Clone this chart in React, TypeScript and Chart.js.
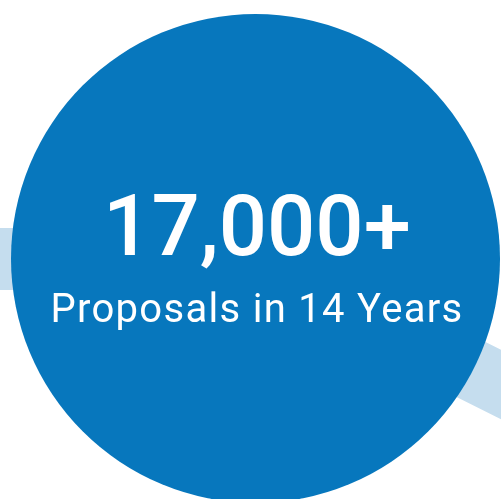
import React, { useEffect, useRef } from "react";
import { Chart, registerables } from "chart.js";

Chart.register(...registerables);

// Background trend band (data units, 0–100 on both axes)
const bandX = [-4, 49.9, 123.8];
const bandY = [48.1, 48.1, 11.0];

// Headline circle
const circleX = [51.0];
const circleY = [48.2];

const headline = "17,000+";
const subline = "Proposals in 14 Years";

const BLUE = "#0777bd";
const LIGHT = "#c5ddee";

export default function App() {
  const ref = useRef<HTMLCanvasElement | null>(null);

  useEffect(() => {
    if (!ref.current) return;
    const chart = new Chart(ref.current, {
      type: "bubble",
      data: {
        datasets: [
          {
            type: "bubble",
            data: circleX.map((x, i) => ({ x, y: circleY[i], r: 244.5 })),
            backgroundColor: BLUE,
            borderWidth: 0,
            order: 0,
          } as any,
          {
            type: "line",
            data: bandX.map((x, i) => ({ x, y: bandY[i] })),
            borderColor: LIGHT,
            borderWidth: 62,
            pointRadius: 0,
            tension: 0,
            fill: false,
            order: 1,
          } as any,
        ],
      },
      options: {
        responsive: false,
        animation: false,
        events: [],
        layout: { padding: 0, autoPadding: false },
        scales: {
          x: { type: "linear", min: 0, max: 100, display: false },
          y: { type: "linear", min: 0, max: 100, display: false },
        },
        plugins: {
          legend: { display: false },
          tooltip: { enabled: false },
          title: { display: false },
        },
      },
    });
    return () => chart.destroy();
  }, []);

  return (
    <div
      style={{
        position: "fixed",
        left: 0,
        top: 0,
        width: 501,
        height: 499,
        background: "#ffffff",
        overflow: "hidden",
      }}
    >
      <canvas ref={ref} width={501} height={499} style={{ display: "block" }} />
      <div
        style={{
          position: "absolute",
          left: 257,
          top: 184,
          transform: "translateX(-50%)",
          whiteSpace: "nowrap",
          color: "#ffffff",
          fontFamily: "Roboto, sans-serif",
          fontWeight: 500,
          fontSize: 85,
          lineHeight: "85px",
        }}
      >
        {headline}
      </div>
      <div
        style={{
          position: "absolute",
          left: 257,
          top: 289,
          transform: "translateX(-50%)",
          whiteSpace: "nowrap",
          color: "#ffffff",
          fontFamily: "Roboto, sans-serif",
          fontWeight: 400,
          fontSize: 40,
          lineHeight: "40px",
          letterSpacing: "1.3px",
        }}
      >
        {subline}
      </div>
    </div>
  );
}
